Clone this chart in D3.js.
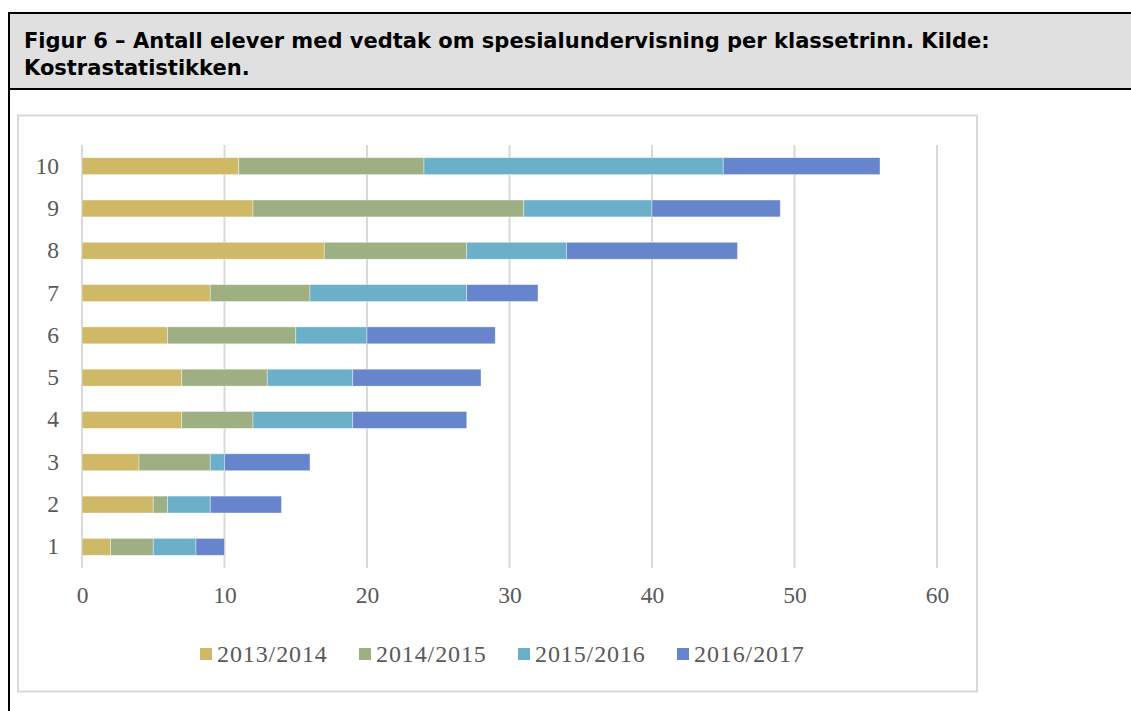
<!DOCTYPE html>
<html>
<head>
<meta charset="utf-8">
<script src="https://cdn.jsdelivr.net/npm/d3@7"></script>
<style>
  html, body { margin: 0; padding: 0; background: #fff; }
  svg { display: block; }
</style>
</head>
<body>
<svg width="1131" height="711"></svg>
<script>
/* data */
var grades = ['1', '2', '3', '4', '5', '6', '7', '8', '9', '10']
var seriesNames = ['2013/2014', '2014/2015', '2015/2016', '2016/2017']
var y2013 = [2, 5, 4, 7, 7, 6, 9, 17, 12, 11]
var y2014 = [3, 1, 5, 5, 6, 9, 7, 10, 19, 13]
var y2015 = [3, 3, 1, 7, 6, 5, 11, 7, 9, 21]
var y2016 = [2, 5, 6, 8, 9, 9, 5, 12, 9, 11]
var xTicks = [0, 10, 20, 30, 40, 50, 60]
var colors = ['#cfb967', '#9eaf84', '#6bb0c8', '#6785cd']

var titleLines = [
  'Figur 6 \u2013 Antall elever med vedtak om spesialundervisning per klassetrinn. Kilde:',
  'Kostrastatistikken.'
]

var svg = d3.select('svg')
var serif = '"Liberation Serif", "DejaVu Serif", serif'

// figure caption frame
svg.append('rect')
  .attr('x', 9).attr('y', 13).attr('width', 1131).attr('height', 76)
  .attr('fill', '#e0e0e0')
svg.append('line')
  .attr('x1', 8).attr('x2', 1131).attr('y1', 13).attr('y2', 13)
  .attr('stroke', '#000').attr('stroke-width', 2)
svg.append('line')
  .attr('x1', 8).attr('x2', 1131).attr('y1', 89).attr('y2', 89)
  .attr('stroke', '#000').attr('stroke-width', 2)
svg.append('line')
  .attr('x1', 9).attr('x2', 9).attr('y1', 12).attr('y2', 711)
  .attr('stroke', '#000').attr('stroke-width', 2)

svg.append('g').selectAll('text')
  .data(titleLines)
  .enter().append('text')
  .attr('x', 24)
  .attr('y', function (d, i) { return 48 + i * 27 })
  .attr('font-family', '"DejaVu Sans", Verdana, sans-serif')
  .attr('font-weight', 'bold')
  .attr('font-size', 21)
  .attr('fill', '#000')
  .text(function (d) { return d })

// chart area border
svg.append('rect')
  .attr('x', 18).attr('y', 115.5).attr('width', 959).attr('height', 576)
  .attr('fill', '#fff')
  .attr('stroke', '#d9d9d9').attr('stroke-width', 2)

var x = d3.scaleLinear().domain([0, 60]).range([82, 937])
var y = d3.scaleBand().domain(grades.slice().reverse())
  .range([145, 568]).paddingInner(0.6).paddingOuter(0.3)

// gridlines
svg.append('g').selectAll('line')
  .data(xTicks)
  .enter().append('line')
  .attr('x1', function (d) { return x(d) })
  .attr('x2', function (d) { return x(d) })
  .attr('y1', 145).attr('y2', 568)
  .attr('stroke', '#d9d9d9').attr('stroke-width', 2)

// stacked bars
var rows = grades.map(function (g, i) {
  return { grade: g, '2013/2014': y2013[i], '2014/2015': y2014[i], '2015/2016': y2015[i], '2016/2017': y2016[i] }
})
var stacked = d3.stack().keys(seriesNames)(rows)

svg.append('g').selectAll('g')
  .data(stacked)
  .enter().append('g')
  .attr('fill', function (d, i) { return colors[i] })
  .selectAll('rect')
  .data(function (d) { return d })
  .enter().append('rect')
  .attr('x', function (d) { return x(d[0]) })
  .attr('width', function (d) { return x(d[1]) - x(d[0]) })
  .attr('y', function (d) { return y(d.data.grade) })
  .attr('height', y.bandwidth())
  .attr('stroke', '#ffffff').attr('stroke-opacity', 0.5).attr('stroke-width', 0.75)

// axes labels
var yAxis = d3.axisLeft(y).tickSize(0).tickPadding(23)
var gy = svg.append('g').attr('transform', 'translate(82,0)').call(yAxis)
gy.select('.domain').remove()
gy.selectAll('text')
  .attr('font-family', serif).attr('font-size', 23.5).attr('fill', '#595959')

var xAxis = d3.axisBottom(x).tickValues(xTicks).tickSize(0).tickPadding(18)
var gx = svg.append('g').attr('transform', 'translate(0,568)').call(xAxis)
gx.select('.domain').remove()
gx.selectAll('text')
  .attr('font-family', serif).attr('font-size', 23.5).attr('fill', '#595959')

// legend
var legend = svg.append('g').attr('transform', 'translate(200,654)')
var item = legend.selectAll('g')
  .data(seriesNames)
  .enter().append('g')
  .attr('transform', function (d, i) { return 'translate(' + (i * 159) + ',0)' })
item.append('rect')
  .attr('x', 0).attr('y', -6).attr('width', 12).attr('height', 12)
  .attr('fill', function (d, i) { return colors[i] })
item.append('text')
  .attr('x', 17).attr('y', 8)
  .attr('font-family', serif).attr('font-size', 24).attr('fill', '#595959')
  .attr('letter-spacing', 0.9)
  .text(function (d) { return d })
</script>
</body>
</html>
